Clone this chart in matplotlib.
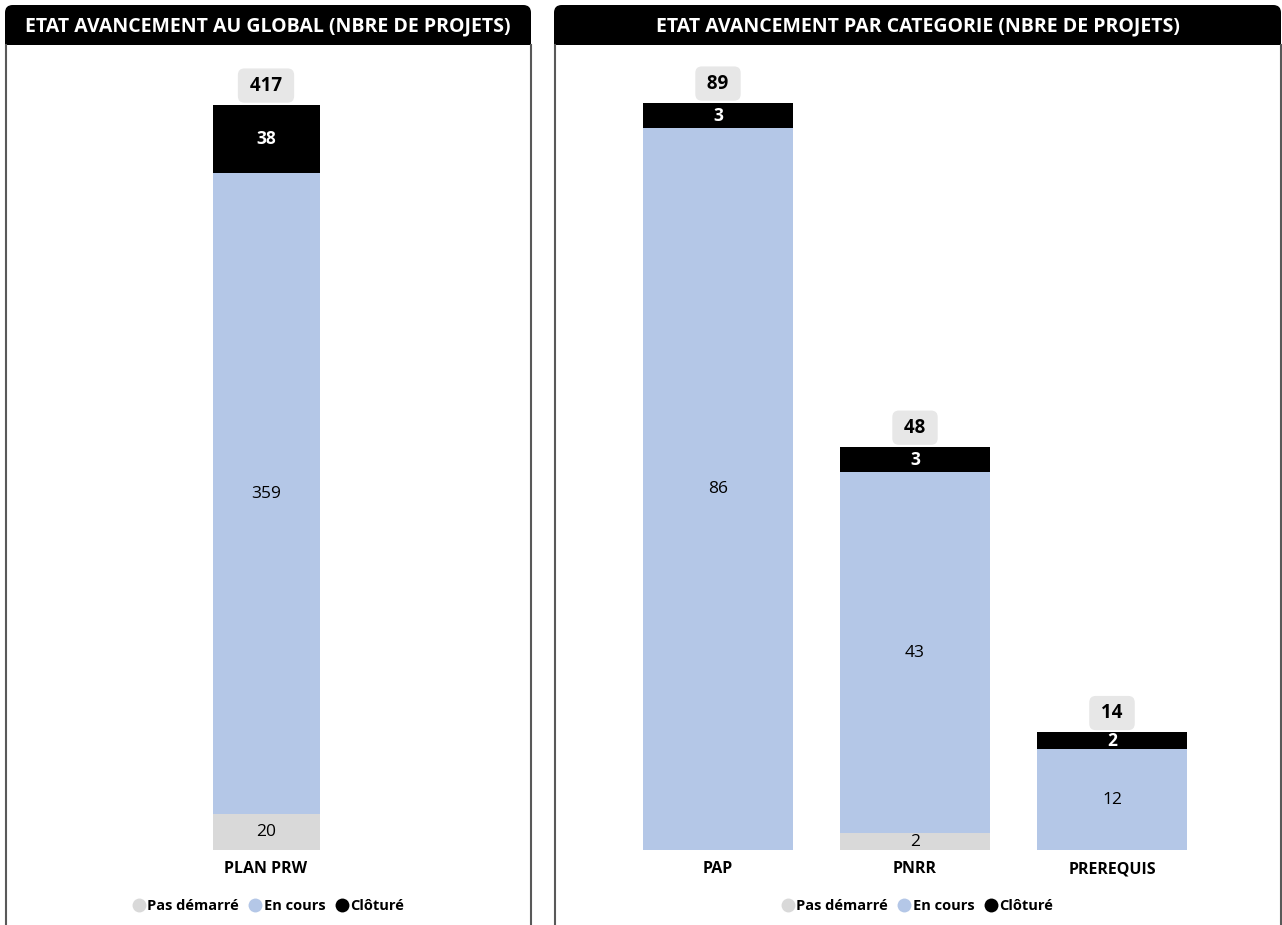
import matplotlib
matplotlib.use("Agg")
import matplotlib.pyplot as plt
from matplotlib.patches import FancyBboxPatch, Rectangle
from matplotlib.lines import Line2D
import numpy as np

plt.rcParams['font.family'] = ['Open Sans', 'DejaVu Sans']

# ---- data ----
series_names = ["Pas démarré", "En cours", "Clôturé"]
series_colors = ["#d9d9d9", "#b4c7e7", "#000000"]
text_colors = ["#000000", "#000000", "#ffffff"]

global_cats = ["PLAN PRW"]
global_pas = [20]
global_encours = [359]
global_cloture = [38]

cat_cats = ["PAP", "PNRR", "PREREQUIS"]
cat_pas = [0, 2, 0]
cat_encours = [86, 43, 12]
cat_cloture = [3, 3, 2]

left_title = "ETAT AVANCEMENT AU GLOBAL (NBRE DE PROJETS)"
right_title = "ETAT AVANCEMENT PAR CATEGORIE (NBRE DE PROJETS)"

W, H = 1282, 925
fig = plt.figure(figsize=(W / 100, H / 100), dpi=100)
fig.patch.set_facecolor("white")


def fx(x):
    return x / W


def fy(y):
    return 1 - y / H


def panel(x0, x1, title):
    bar = FancyBboxPatch((fx(x0), fy(45)), fx(x1) - fx(x0), fy(5) - fy(45),
                         boxstyle="round,pad=0,rounding_size=0.006",
                         transform=fig.transFigure, facecolor="black",
                         edgecolor="none", mutation_aspect=W / H)
    fig.patches.append(bar)
    sq = Rectangle((fx(x0), fy(45)), fx(x1) - fx(x0), fy(25) - fy(45),
                   transform=fig.transFigure, facecolor="black", edgecolor="none")
    fig.patches.append(sq)
    for xx in (x0 + 0.5, x1 - 0.5):
        fig.lines.append(Line2D([fx(xx), fx(xx)], [fy(45), fy(H + 5)],
                                transform=fig.transFigure, color="#595959", lw=1.5))
    fig.text(fx((x0 + x1) / 2), fy(26), title, color="white", fontsize=14,
             fontweight="bold", ha="center", va="center")


panel(5, 531, left_title)
panel(554, 1281, right_title)


def draw(ax_px, cats, pas, enc, clo, scale, width, legend_cx):
    x0, x1, ytop, ybot = ax_px
    ax = fig.add_axes([fx(x0), fy(ybot), fx(x1) - fx(x0), fy(ytop) - fy(ybot)])
    n = len(cats)
    xs = np.arange(n)
    ax.set_xlim(-0.5, n - 0.5)
    ax.set_ylim(0, (ybot - ytop) / scale)
    bottom = np.zeros(n)
    for vals, col, tcol in zip([pas, enc, clo], series_colors, text_colors):
        vals = np.array(vals, dtype=float)
        ax.bar(xs, vals, width=width, bottom=bottom, color=col, edgecolor="none")
        for i, v in enumerate(vals):
            if v > 0:
                ax.text(xs[i], bottom[i] + v / 2, f"{int(v)}", ha="center", va="center",
                        color=tcol, fontsize=12.5,
                        fontweight="bold" if tcol == "#ffffff" else "medium")
        bottom += vals
    for i, t in enumerate(bottom):
        ax.annotate(f" {int(t)} ", (xs[i], t), xytext=(0, 14), textcoords="offset points",
                    ha="center", va="center", fontsize=13.5, fontweight="bold",
                    bbox=dict(boxstyle="round,pad=0.38,rounding_size=0.35",
                              fc="#e7e7e7", ec="none"))
    ax.set_xticks(xs)
    ax.set_xticklabels(cats, fontsize=11.5, fontweight="bold")
    ax.tick_params(axis="x", length=0, pad=8)
    ax.set_yticks([])
    for s in ax.spines.values():
        s.set_visible(False)
    handles = [Line2D([], [], marker="o", linestyle="none", markersize=10,
                      markerfacecolor=c, markeredgecolor="none") for c in series_colors]
    fig.legend(handles, series_names, loc="center", ncol=3, frameon=False,
               bbox_to_anchor=(fx(legend_cx), fy(906)),
               handletextpad=0.0, columnspacing=0.5, handlelength=1.2,
               prop=dict(weight="bold", size=10.5))
    return ax


draw((46, 486, 80, 850), global_cats, global_pas, global_encours, global_cloture,
     745 / 417, 107 / 440, 267)
draw((619.5, 1210.5, 80, 850), cat_cats, cat_pas, cat_encours, cat_cloture,
     747 / 89, 150 / 197, 916)

fig.savefig("out.png", dpi=100)
